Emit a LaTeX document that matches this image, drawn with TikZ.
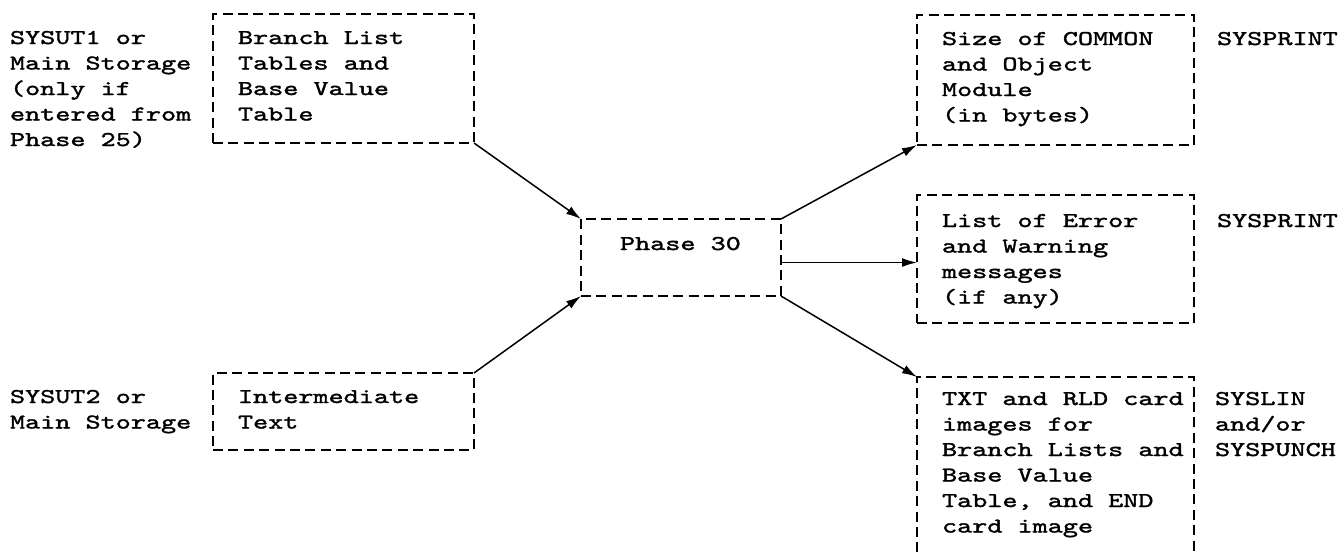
\documentclass[tikz,border=0pt]{standalone}
\usepackage{fontspec}
\usetikzlibrary{arrows.meta,calc}
\newfontfamily\typer[Extension=.otf,FakeStretch=1.37,FakeBold=1.6]{lmmono10-regular}
\newcommand{\txtlines}[1]{\begin{tabular}[t]{@{}l@{}}#1\end{tabular}}

\begin{document}
\begin{tikzpicture}[x=1pt,y=-1pt,
  every node/.style={inner sep=0pt, outer sep=0pt},
  txt/.style={anchor=base west, font=\typer\fontsize{21}{25.5}\selectfont},
  dbox/.style={draw, line width=1.8pt, dash pattern=on 10pt off 5.4pt,
               rectangle, anchor=north west},
  flow/.style={line width=1.5pt, -{Latex[length=15pt,width=9pt]}}]

\useasboundingbox (0,0) rectangle (1341,552);
\clip (0,0) rectangle (1341,552);

% dashed process / data boxes
\node[dbox, minimum width=261pt, minimum height=129pt] (A) at (213,14) {};
\node[dbox, minimum width=261pt, minimum height=77pt]  (B) at (213,373) {};
\node[dbox, minimum width=200pt, minimum height=77pt]  (P) at (581,219) {};
\node[dbox, minimum width=277pt, minimum height=130pt] (C) at (917,15) {};
\node[dbox, minimum width=277pt, minimum height=128pt] (D) at (917,195) {};
\node[dbox, minimum width=277pt, minimum height=220pt] (E) at (917,377) {};

% inputs
\node[txt] (inA) at (10,44) {\txtlines{SYSUT1 or\\Main Storage\\(only if\\entered from\\Phase 25)}};
\node[txt] (tA) at (238,44) {\txtlines{Branch List\\Tables and\\Base Value\\Table}};
\node[txt] (inB) at (10,403) {\txtlines{SYSUT2 or\\Main Storage}};
\node[txt] (tB) at (238,403) {\txtlines{Intermediate\\Text}};

% phase
\node[txt] (tP) at (620,250) {Phase 30};

% outputs
\node[txt] (tC) at (942,45) {\txtlines{Size of COMMON\\and Object\\Module\\(in bytes)}};
\node[txt] (outC) at (1217,45) {SYSPRINT};
\node[txt] (tD) at (942,227) {\txtlines{List of Error\\and Warning\\messages\\(if any)}};
\node[txt] (outD) at (1217,227) {SYSPRINT};
\node[txt] (tE) at (942,405) {\txtlines{TXT and RLD card\\images for\\Branch Lists and\\Base Value\\Table, and END\\card image}};
\node[txt] (outE) at (1215,405) {\txtlines{SYSLIN\\and/or\\SYSPUNCH}};

% data flow
\draw[flow] (A.south east) -- (P.north west);
\draw[flow] (B.north east) -- (P.south west);
\draw[flow] (P.north east) -- (C.south west);
\draw[flow] ([yshift=-5pt]P.east) -- ([yshift=-5pt]P.east -| D.west);
\draw[flow] (P.south east) -- (E.north west);
\end{tikzpicture}
\end{document}
